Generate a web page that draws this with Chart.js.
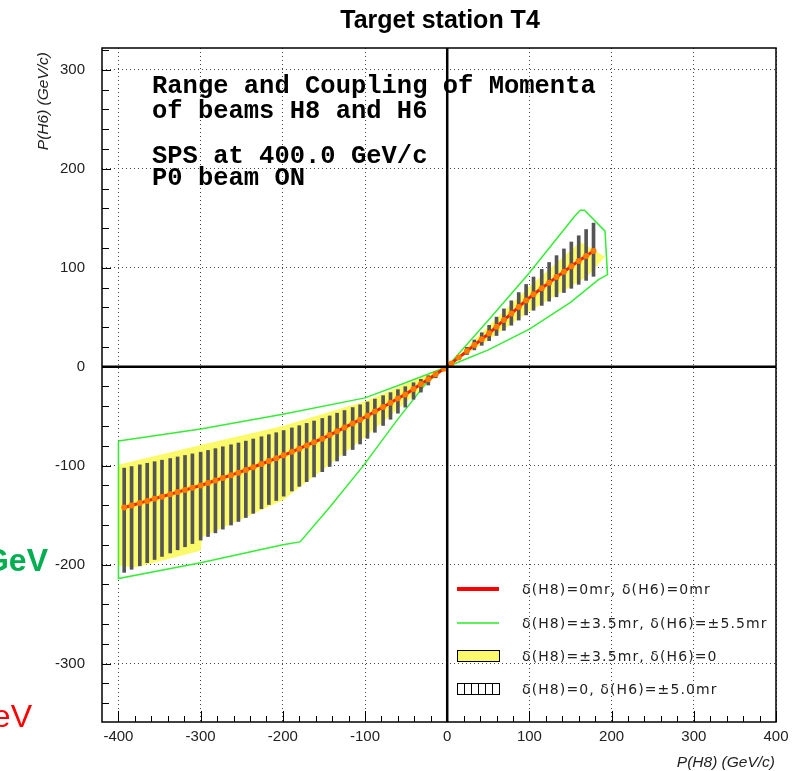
<!DOCTYPE html>
<html>
<head>
<meta charset="utf-8">
<script src="https://cdn.jsdelivr.net/npm/chart.js@4.4.0/dist/chart.umd.min.js"></script>
<style>
body { margin: 0; background: #fff; }
canvas { display: block; }
</style>
</head>
<body>
<canvas id="targetChart" width="810" height="771"></canvas>
<script>
const h8 = [-393, -384, -374, -365, -356, -347, -337, -328, -319, -310,
    -300, -291, -282, -273, -263, -254, -245, -236, -226, -217,
    -208, -199, -189, -180, -171, -162, -152, -143, -134, -125,
    -115, -106, -97, -88, -78, -69, -60, -51, -41, -32, -23, -14, -4,
    5, 14, 24, 33, 42, 51, 60, 69, 78, 87, 96, 105, 115, 124, 133, 142, 151, 160, 169, 178];
const h6Centre = [-142.3, -140.2, -137.8, -135.6, -133.4, -131.3, -128.9, -126.7, -124.6, -122.4,
    -120, -117.5, -115, -112.4, -109.6, -107.1, -104.4, -101.5, -98.3, -95.4,
    -92.6, -89.6, -86, -82.8, -79.6, -76.3, -72.7, -69.1, -65.3, -61.5,
    -57.3, -53.5, -49.6, -45.4, -40.7, -36.4, -32.2, -28, -22.5, -17.6, -12.7, -7.7, -2.2,
    3.3, 9.2, 15.8, 21.8, 27.7, 33.7, 40.4, 47.1, 53.7, 60.4, 67, 73.1, 79.3, 84.9, 90.5, 96, 101.6, 106.7, 111.8, 117];
const h6High = [-102.5, -100.9, -99.2, -97.6, -96, -94.5, -92.8, -91.2, -89.7, -88.1,
    -86.4, -84.6, -82.8, -80.9, -78.9, -77.1, -75.2, -73.1, -70.8, -68.7,
    -66.7, -64.5, -61.9, -59.6, -57.3, -54.9, -52.3, -49.8, -47, -44.3,
    -41.3, -38.5, -35.7, -32.7, -29.3, -26.2, -23.2, -20.2, -16.2, -12.7, -9.1, -5.5, -1.6,
    4.1, 11.4, 19.6, 27, 34.3, 41.8, 50.1, 58.4, 66.6, 74.9, 83.1, 90.6, 98.3, 105.3, 112.2, 119, 126, 132.3, 138.6, 145.1];
const h6Low = [-207.8, -204.7, -201.2, -198, -194.8, -191.7, -188.2, -185, -181.9, -178.7,
    -175.2, -171.6, -167.9, -164.1, -160, -156.4, -152.4, -148.2, -143.5, -139.3,
    -135.2, -130.8, -125.6, -120.9, -116.2, -111.4, -106.1, -100.9, -95.3, -89.8,
    -83.7, -78.1, -72.4, -66.3, -59.4, -53.1, -47, -40.9, -32.9, -25.7, -18.5, -11.2, -3.2,
    2.6, 7.2, 12.3, 17, 21.6, 26.3, 31.5, 36.7, 41.9, 47.1, 52.3, 57, 61.9, 66.2, 70.6, 74.9, 79.2, 83.2, 87.2, 91.3];

// outline of the yellow band (d(H8)=+-3.5mr, d(H6)=0)
const yellowX = [-400, -300, -200, -100, 0, 50, 100, 162, 192, 170, 100, 50, 0, -50, -100, -150, -200, -298, -300, -380, -400, -400];
const yellowY = [-99, -79, -60, -35, 0, 41, 81, 126, 111, 91, 56, 27, 0, -36, -71, -103, -135, -172, -186, -203, -201, -99];

// outline of the green acceptance (d(H8)=+-3.5mr, d(H6)=+-5.5mr)
const greenX = [-400, -300, -200, -100, -53, 0, 50, 99, 129, 155, 162, 167, 192, 195, 184, 150, 100, 50, 0, -25, -61, -102, -142, -179, -200, -300, -400, -400];
const greenY = [-75, -63, -48, -31.5, -17, 0, 47, 94, 125, 152, 158, 158, 137, 93, 88, 65, 38, 17, 0, -16, -54, -100, -141, -177, -180, -198, -214, -75];

const legendLabels = ['\u03b4(H8)=0mr, \u03b4(H6)=0mr',
    '\u03b4(H8)=\u00b13.5mr, \u03b4(H6)=\u00b15.5mr',
    '\u03b4(H8)=\u00b13.5mr, \u03b4(H6)=0',
    '\u03b4(H8)=0, \u03b4(H6)=\u00b15.0mr'];
const noteLines = ['Range and Coupling of Momenta', 'of beams H8 and H6', 'SPS at 400.0 GeV/c', 'P0 beam ON'];

const sans = '"Liberation Sans", Arial, sans-serif';

function pts(xs, ys) {
    return xs.map((x, i) => ({x: x, y: ys[i]}));
}

const decorations = {
    id: 'decorations',
    afterDatasetsDraw(chart) {
        const ctx = chart.ctx;
        ctx.save();
        ctx.fillStyle = '#000';
        ctx.font = 'bold 25.5px "Liberation Mono", "Courier New", monospace';
        const ys = [93, 118, 163, 185];
        noteLines.forEach((t, i) => ctx.fillText(t, 152, ys[i]));
        ctx.restore();
    },
    afterDraw(chart) {
        const ctx = chart.ctx;
        const a = chart.chartArea;
        const xs = chart.scales.x, ys = chart.scales.y;
        ctx.save();

        // thick zero lines
        ctx.strokeStyle = '#000';
        ctx.lineWidth = 2.5;
        ctx.beginPath();
        const x0 = xs.getPixelForValue(0), y0 = ys.getPixelForValue(0);
        ctx.moveTo(x0, a.top); ctx.lineTo(x0, a.bottom);
        ctx.moveTo(a.left, y0); ctx.lineTo(a.right, y0);
        ctx.stroke();

        // frame
        ctx.lineWidth = 1.5;
        ctx.strokeRect(a.left, a.top, a.right - a.left, a.bottom - a.top);

        // inner ticks
        ctx.lineWidth = 1;
        ctx.beginPath();
        for (let v = -400; v <= 400; v += 20) {
            const p = Math.round(xs.getPixelForValue(v)) + 0.5;
            const len = v % 100 === 0 ? 11 : 6;
            ctx.moveTo(p, a.bottom); ctx.lineTo(p, a.bottom - len);
        }
        for (let v = -340; v <= 320; v += 20) {
            const p = Math.round(ys.getPixelForValue(v)) + 0.5;
            const len = v % 100 === 0 ? 9 : 7;
            ctx.moveTo(a.left, p); ctx.lineTo(a.left + len, p);
        }
        ctx.stroke();

        // title and axis titles
        ctx.fillStyle = '#000';
        ctx.textAlign = 'center';
        ctx.font = 'bold 25px ' + sans;
        ctx.fillText('Target station T4', 440, 28);

        ctx.fillStyle = '#222';
        ctx.font = 'italic 15.5px ' + sans;
        ctx.textAlign = 'right';
        ctx.fillText('P(H8) (GeV/c)', 775, 767);
        ctx.save();
        ctx.translate(48, 52);
        ctx.rotate(-Math.PI / 2);
        ctx.fillText('P(H6) (GeV/c)', 0, 0);
        ctx.restore();

        // legend
        const lx = 457, lw = 42;
        const rows = [589, 623, 656, 689];
        ctx.strokeStyle = '#ff0000';
        ctx.lineWidth = 4;
        ctx.beginPath(); ctx.moveTo(lx, rows[0]); ctx.lineTo(lx + lw, rows[0]); ctx.stroke();
        ctx.strokeStyle = '#22ee22';
        ctx.lineWidth = 1.5;
        ctx.beginPath(); ctx.moveTo(lx, rows[1]); ctx.lineTo(lx + lw, rows[1]); ctx.stroke();
        ctx.fillStyle = '#fafa6a';
        ctx.fillRect(lx, rows[2] - 6, lw, 12);
        ctx.strokeStyle = '#000';
        ctx.lineWidth = 1;
        ctx.strokeRect(lx + 0.5, rows[2] - 5.5, lw, 11);
        ctx.strokeRect(lx + 0.5, rows[3] - 5.5, lw, 11);
        ctx.beginPath();
        for (let k = 1; k < 6; k++) {
            const p = lx + 0.5 + k * 7;
            ctx.moveTo(p, rows[3] - 5.5); ctx.lineTo(p, rows[3] + 5.5);
        }
        ctx.stroke();
        ctx.fillStyle = '#222';
        ctx.textAlign = 'left';
        ctx.textBaseline = 'middle';
        ctx.font = '14px "DejaVu Sans", sans-serif';
        ctx.letterSpacing = '1.1px';
        legendLabels.forEach((t, i) => ctx.fillText(t, 522, rows[i] + 1));
        ctx.letterSpacing = '0px';

        // fragments of slide text cut by the left edge
        ctx.textAlign = 'right';
        ctx.textBaseline = 'alphabetic';
        ctx.fillStyle = '#00b050';
        ctx.font = 'bold 32px ' + sans;
        ctx.fillText('GeV', 48, 571);
        ctx.fillStyle = '#ff0000';
        ctx.font = '32px ' + sans;
        ctx.fillText('eV', 32, 727);
        ctx.restore();
    }
};

const gridColor = (c) => (c.tick && c.tick.value === 0) ? 'rgba(0,0,0,0)' : '#444';

new Chart(document.getElementById('targetChart'), {
    type: 'scatter',
    data: {
        datasets: [
            {
                label: legendLabels[0],
                data: pts(h8, h6Centre),
                showLine: true,
                borderColor: '#ee2200',
                borderWidth: 3,
                pointRadius: 3,
                pointBackgroundColor: '#ff7a00',
                pointBorderWidth: 0,
                order: 0
            },
            {
                label: legendLabels[1],
                data: pts(greenX, greenY),
                showLine: true,
                borderColor: '#33ee33',
                borderWidth: 1.5,
                pointRadius: 0,
                fill: false,
                order: 2
            },
            {
                label: legendLabels[2],
                data: pts(yellowX, yellowY),
                showLine: true,
                borderWidth: 0,
                borderColor: 'rgba(0,0,0,0)',
                backgroundColor: '#fafa6a',
                pointRadius: 0,
                fill: 'shape',
                order: 3
            },
            {
                type: 'bar',
                label: legendLabels[3],
                data: h8.map((x, i) => ({x: x, y: [h6Low[i], h6High[i]]})),
                backgroundColor: '#555555',
                barThickness: 3,
                order: 1
            }
        ]
    },
    options: {
        responsive: false,
        animation: false,
        layout: { padding: { top: 48, right: 34, left: 0, bottom: 0 } },
        plugins: {
            legend: { display: false },
            title: { display: false },
            tooltip: { enabled: false }
        },
        scales: {
            x: {
                type: 'linear',
                min: -420,
                max: 400,
                offset: false,
                z: 1,
                afterFit: (s) => { s.height = 49; },
                ticks: {
                    stepSize: 100,
                    includeBounds: false,
                    padding: 6,
                    maxRotation: 0,
                    color: '#222',
                    font: { family: sans, size: 15 }
                },
                grid: { drawTicks: false, offset: false, color: gridColor, lineWidth: 1 },
                border: { display: false, dash: [1, 3] }
            },
            y: {
                type: 'linear',
                min: -359,
                max: 322,
                z: 1,
                afterFit: (s) => { s.width = 102; },
                ticks: {
                    stepSize: 100,
                    includeBounds: false,
                    padding: 17,
                    color: '#222',
                    font: { family: sans, size: 15 }
                },
                grid: { drawTicks: false, color: gridColor, lineWidth: 1 },
                border: { display: false, dash: [1, 3] }
            }
        }
    },
    plugins: [decorations]
});
</script>
</body>
</html>
